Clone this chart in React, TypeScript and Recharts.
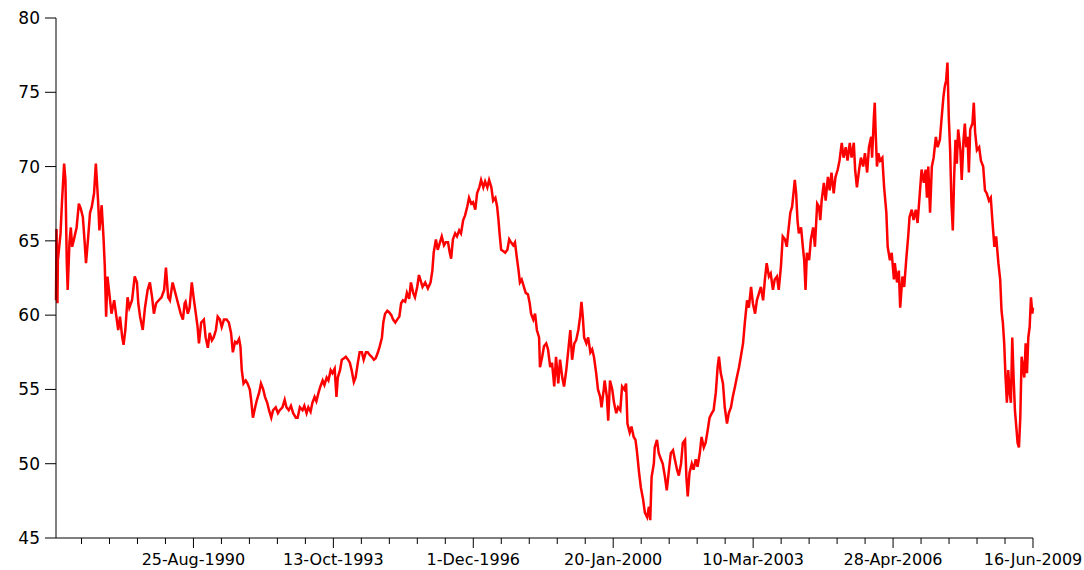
import { LineChart, Line, XAxis, YAxis } from "recharts";

const MONTHS = ["Jan", "Feb", "Mar", "Apr", "May", "Jun", "Jul", "Aug", "Sep", "Oct", "Nov", "Dec"];

// labelled dates on the time axis; four unlabelled ticks sit between each pair
const majorTickLabels = [
  "25-Aug-1990",
  "13-Oct-1993",
  "1-Dec-1996",
  "20-Jan-2000",
  "10-Mar-2003",
  "28-Apr-2006",
  "16-Jun-2009",
];
const minorPerMajor = 4;

const yTicks = [45, 50, 55, 60, 65, 70, 75, 80];

// [decimal year, value]
const readings: [number, number][] = [
  [1987.568, 61.0], [1987.58, 65.8], [1987.6, 60.8], [1987.61, 63.7], [1987.67, 65.5],
  [1987.7, 67.5], [1987.75, 70.2], [1987.78, 69.1], [1987.81, 63.5], [1987.83, 61.7],
  [1987.87, 64.9], [1987.9, 65.9], [1987.93, 64.6], [1987.97, 65.1], [1988.03, 65.9],
  [1988.08, 67.5], [1988.12, 67.2], [1988.17, 66.6], [1988.21, 64.9], [1988.24, 63.5],
  [1988.29, 65.3], [1988.33, 66.9], [1988.37, 67.3], [1988.42, 68.2], [1988.46, 70.2],
  [1988.51, 67.7], [1988.54, 65.7], [1988.59, 67.4], [1988.63, 65.3], [1988.66, 63.3],
  [1988.69, 59.9], [1988.72, 62.6], [1988.76, 61.5], [1988.81, 60.1], [1988.87, 61.0],
  [1988.91, 60.1], [1988.96, 59.0], [1989.0, 59.9], [1989.05, 58.5], [1989.08, 58.0],
  [1989.12, 59.0], [1989.17, 61.2], [1989.21, 60.5], [1989.27, 61.0], [1989.33, 62.6],
  [1989.38, 62.2], [1989.41, 60.8], [1989.45, 59.9], [1989.51, 59.0], [1989.56, 60.5],
  [1989.62, 61.7], [1989.67, 62.2], [1989.72, 61.2], [1989.76, 60.1], [1989.81, 60.8],
  [1989.87, 61.0], [1989.93, 61.2], [1989.99, 61.7], [1990.03, 63.2], [1990.08, 61.2],
  [1990.12, 61.0], [1990.18, 62.2], [1990.24, 61.5], [1990.3, 60.8], [1990.36, 60.1],
  [1990.41, 59.7], [1990.45, 60.8], [1990.47, 60.9], [1990.52, 60.1], [1990.56, 60.5],
  [1990.61, 62.2], [1990.65, 61.2], [1990.7, 60.1], [1990.74, 59.2], [1990.77, 58.1],
  [1990.82, 59.5], [1990.88, 59.7], [1990.92, 58.5], [1990.97, 57.8], [1991.01, 58.8],
  [1991.06, 58.3], [1991.1, 58.5], [1991.15, 59.0], [1991.19, 59.9], [1991.24, 59.7],
  [1991.28, 59.2], [1991.33, 59.7], [1991.39, 59.7], [1991.44, 59.5], [1991.49, 58.8],
  [1991.53, 57.5], [1991.58, 58.2], [1991.62, 58.1], [1991.67, 58.4], [1991.7, 57.9],
  [1991.73, 56.3], [1991.77, 55.4], [1991.82, 55.6], [1991.86, 55.4], [1991.91, 55.0],
  [1991.94, 54.3], [1991.98, 53.1], [1992.03, 53.8], [1992.07, 54.3], [1992.12, 54.8],
  [1992.16, 55.4], [1992.21, 55.0], [1992.25, 54.5], [1992.3, 54.1], [1992.34, 53.6],
  [1992.39, 53.1], [1992.43, 53.6], [1992.49, 53.8], [1992.54, 53.4], [1992.58, 53.6],
  [1992.64, 53.8], [1992.69, 54.3], [1992.73, 53.8], [1992.78, 53.6], [1992.83, 53.9],
  [1992.88, 53.4], [1992.94, 53.1], [1992.98, 53.1], [1993.03, 53.8], [1993.09, 53.6],
  [1993.13, 53.9], [1993.18, 53.4], [1993.22, 53.8], [1993.27, 53.5], [1993.31, 54.1],
  [1993.36, 54.5], [1993.4, 54.2], [1993.45, 54.8], [1993.49, 55.2], [1993.54, 55.6],
  [1993.58, 55.3], [1993.63, 55.8], [1993.67, 55.6], [1993.72, 56.3], [1993.76, 56.1],
  [1993.81, 56.4], [1993.85, 54.5], [1993.88, 55.8], [1993.93, 56.3], [1993.97, 57.0],
  [1994.02, 57.1], [1994.06, 57.2], [1994.11, 57.0], [1994.15, 56.8], [1994.19, 56.3],
  [1994.24, 55.5], [1994.28, 55.8], [1994.33, 56.8], [1994.37, 57.5], [1994.42, 57.5],
  [1994.46, 57.0], [1994.51, 57.5], [1994.55, 57.5], [1994.6, 57.3], [1994.64, 57.2],
  [1994.69, 57.0], [1994.73, 57.1], [1994.78, 57.5], [1994.82, 57.9], [1994.87, 58.5],
  [1994.9, 59.5], [1994.94, 60.1], [1994.99, 60.3], [1995.03, 60.2], [1995.08, 60.0],
  [1995.12, 59.7], [1995.17, 59.5], [1995.21, 59.7], [1995.26, 59.9], [1995.3, 60.8],
  [1995.34, 61.0], [1995.39, 60.9], [1995.43, 61.5], [1995.48, 61.1], [1995.52, 62.2],
  [1995.57, 61.5], [1995.61, 61.2], [1995.66, 61.9], [1995.7, 62.7], [1995.78, 61.9],
  [1995.84, 62.2], [1995.9, 61.8], [1995.96, 62.2], [1996.0, 63.0], [1996.03, 64.2],
  [1996.08, 65.1], [1996.12, 64.4], [1996.17, 64.9], [1996.21, 65.3], [1996.26, 64.7],
  [1996.3, 64.9], [1996.35, 64.9], [1996.39, 64.2], [1996.42, 63.8], [1996.46, 65.1],
  [1996.51, 65.5], [1996.55, 65.3], [1996.6, 65.7], [1996.64, 65.5], [1996.69, 66.4],
  [1996.73, 66.7], [1996.78, 67.3], [1996.82, 67.9], [1996.87, 67.5], [1996.91, 67.6],
  [1996.96, 67.1], [1997.0, 68.2], [1997.05, 68.6], [1997.09, 69.1], [1997.14, 68.6],
  [1997.18, 69.0], [1997.23, 68.6], [1997.27, 69.1], [1997.32, 68.6], [1997.36, 67.7],
  [1997.41, 67.9], [1997.45, 67.3], [1997.48, 66.4], [1997.51, 65.3], [1997.54, 64.4],
  [1997.59, 64.3], [1997.63, 64.2], [1997.68, 64.4], [1997.72, 65.1], [1997.76, 64.9],
  [1997.81, 64.7], [1997.85, 64.9], [1997.89, 63.9], [1997.93, 63.0], [1997.96, 62.2],
  [1998.0, 62.4], [1998.05, 61.9], [1998.09, 61.5], [1998.14, 61.4], [1998.18, 60.8],
  [1998.21, 60.1], [1998.26, 59.7], [1998.3, 60.1], [1998.34, 59.0], [1998.39, 58.5],
  [1998.41, 56.5], [1998.46, 57.2], [1998.5, 57.9], [1998.55, 58.1], [1998.59, 57.7],
  [1998.64, 56.5], [1998.68, 56.8], [1998.73, 55.2], [1998.77, 57.2], [1998.82, 55.4],
  [1998.86, 57.0], [1998.91, 55.8], [1998.95, 55.2], [1999.0, 56.3], [1999.04, 57.5],
  [1999.09, 59.0], [1999.13, 57.0], [1999.18, 58.1], [1999.22, 58.3], [1999.27, 59.0],
  [1999.31, 59.9], [1999.34, 60.9], [1999.37, 59.9], [1999.4, 58.5], [1999.45, 58.1],
  [1999.49, 58.5], [1999.54, 57.5], [1999.58, 57.7], [1999.62, 57.2], [1999.67, 56.1],
  [1999.71, 55.0], [1999.76, 54.5], [1999.79, 53.8], [1999.84, 55.0], [1999.86, 55.6],
  [1999.91, 54.5], [1999.94, 52.9], [1999.98, 55.6], [2000.03, 55.0], [2000.07, 54.1],
  [2000.12, 53.4], [2000.16, 53.8], [2000.21, 53.6], [2000.25, 55.2], [2000.3, 55.0],
  [2000.34, 55.4], [2000.37, 52.7], [2000.42, 52.1], [2000.46, 52.5], [2000.51, 51.8],
  [2000.55, 51.6], [2000.58, 50.9], [2000.63, 49.4], [2000.67, 48.4], [2000.72, 47.6],
  [2000.76, 46.7], [2000.81, 46.4], [2000.85, 47.1], [2000.88, 46.2], [2000.91, 49.1],
  [2000.96, 50.0], [2000.98, 51.1], [2001.03, 51.6], [2001.07, 50.7], [2001.12, 50.3],
  [2001.16, 50.0], [2001.21, 49.1], [2001.25, 48.2], [2001.3, 49.6], [2001.34, 50.7],
  [2001.39, 50.9], [2001.43, 50.3], [2001.48, 49.6], [2001.52, 49.2], [2001.57, 50.0],
  [2001.61, 51.4], [2001.66, 51.6], [2001.69, 49.1], [2001.72, 47.8], [2001.76, 49.4],
  [2001.81, 50.0], [2001.85, 49.6], [2001.9, 50.3], [2001.94, 49.8], [2001.99, 50.7],
  [2002.03, 51.8], [2002.08, 51.1], [2002.12, 51.4], [2002.17, 52.3], [2002.21, 53.1],
  [2002.26, 53.4], [2002.3, 53.6], [2002.35, 54.8], [2002.39, 56.5], [2002.42, 57.2],
  [2002.46, 56.1], [2002.51, 55.4], [2002.55, 53.8], [2002.6, 52.7], [2002.64, 53.4],
  [2002.69, 53.8], [2002.73, 54.5], [2002.78, 55.2], [2002.82, 55.8], [2002.87, 56.5],
  [2002.91, 57.2], [2002.96, 58.1], [2003.0, 59.5], [2003.05, 61.0], [2003.09, 60.5],
  [2003.14, 61.9], [2003.18, 60.8], [2003.23, 60.1], [2003.27, 61.0], [2003.32, 61.5],
  [2003.36, 61.9], [2003.41, 61.0], [2003.45, 62.4], [2003.49, 63.5], [2003.54, 62.6],
  [2003.58, 62.8], [2003.63, 61.7], [2003.67, 62.4], [2003.72, 62.6], [2003.76, 61.7],
  [2003.81, 63.3], [2003.85, 65.3], [2003.9, 65.1], [2003.94, 64.6], [2003.97, 65.5],
  [2004.02, 66.9], [2004.06, 67.3], [2004.09, 68.2], [2004.12, 69.1], [2004.15, 68.2],
  [2004.18, 66.4], [2004.21, 65.5], [2004.26, 65.9], [2004.3, 64.6], [2004.33, 63.7],
  [2004.36, 61.7], [2004.39, 64.2], [2004.44, 63.7], [2004.48, 65.1], [2004.53, 65.9],
  [2004.57, 64.6], [2004.62, 67.5], [2004.66, 67.3], [2004.69, 66.4], [2004.72, 67.7],
  [2004.77, 68.9], [2004.81, 67.7], [2004.86, 69.3], [2004.9, 68.4], [2004.94, 69.6],
  [2004.99, 68.2], [2005.03, 69.3], [2005.08, 69.8], [2005.12, 70.4], [2005.17, 71.6],
  [2005.21, 70.6], [2005.26, 71.3], [2005.3, 70.4], [2005.35, 71.6], [2005.39, 70.6],
  [2005.44, 71.6], [2005.47, 69.8], [2005.51, 68.6], [2005.56, 69.8], [2005.6, 70.6],
  [2005.65, 70.0], [2005.69, 70.9], [2005.74, 69.6], [2005.78, 71.3], [2005.83, 72.0],
  [2005.85, 70.6], [2005.89, 73.3], [2005.91, 74.3], [2005.93, 72.3], [2005.96, 70.0],
  [2005.99, 70.9], [2006.03, 70.4], [2006.08, 70.6], [2006.12, 68.6], [2006.17, 66.9],
  [2006.2, 64.6], [2006.25, 63.7], [2006.29, 64.2], [2006.34, 62.4], [2006.36, 63.5],
  [2006.41, 62.2], [2006.45, 63.0], [2006.48, 60.5], [2006.53, 62.6], [2006.57, 61.9],
  [2006.62, 63.9], [2006.66, 65.3], [2006.69, 66.6], [2006.74, 67.1], [2006.78, 66.4],
  [2006.83, 67.1], [2006.87, 66.2], [2006.92, 68.2], [2006.96, 69.8], [2007.01, 68.9],
  [2007.05, 69.8], [2007.08, 67.9], [2007.11, 70.0], [2007.15, 66.9], [2007.19, 70.0],
  [2007.23, 70.6], [2007.28, 72.0], [2007.32, 71.3], [2007.37, 71.8], [2007.41, 73.3],
  [2007.45, 74.7], [2007.48, 75.4], [2007.51, 75.8], [2007.54, 77.0], [2007.57, 73.3],
  [2007.6, 71.1], [2007.63, 67.5], [2007.66, 65.7], [2007.69, 69.3], [2007.72, 71.8],
  [2007.75, 70.2], [2007.78, 72.5], [2007.83, 71.1], [2007.86, 69.1], [2007.9, 71.8],
  [2007.93, 72.9], [2007.96, 71.3], [2007.99, 72.0], [2008.02, 69.6], [2008.05, 72.5],
  [2008.1, 72.9], [2008.13, 74.3], [2008.16, 72.3], [2008.2, 71.1], [2008.25, 71.3],
  [2008.29, 70.4], [2008.34, 70.0], [2008.38, 68.4], [2008.42, 68.2], [2008.47, 67.7],
  [2008.51, 67.9], [2008.54, 66.6], [2008.59, 64.6], [2008.63, 65.3], [2008.68, 63.5],
  [2008.72, 62.4], [2008.75, 60.3], [2008.78, 59.5], [2008.81, 58.1], [2008.84, 55.8],
  [2008.87, 54.1], [2008.9, 56.3], [2008.93, 54.8], [2008.96, 54.1], [2008.99, 58.5],
  [2009.02, 55.8], [2009.05, 53.6], [2009.08, 52.5], [2009.11, 51.4], [2009.14, 51.1],
  [2009.17, 53.1], [2009.2, 57.2], [2009.23, 56.5], [2009.26, 55.8], [2009.29, 58.1],
  [2009.32, 56.1], [2009.35, 58.5], [2009.38, 59.2], [2009.41, 61.2], [2009.44, 60.1],
  [2009.455, 60.5],
];

const FONT = "'DejaVu Sans', Verdana, sans-serif";

function parseLabel(label: string): number {
  const [d, m, y] = label.split("-");
  return Date.UTC(Number(y), MONTHS.indexOf(m), Number(d));
}

function yearToTime(year: number): number {
  const whole = Math.floor(year);
  const a = Date.UTC(whole, 0, 1);
  const b = Date.UTC(whole + 1, 0, 1);
  return a + (year - whole) * (b - a);
}

const data = readings.map(([year, value]) => ({ t: yearToTime(year), value }));
const tStart = data[0].t;
const tEnd = data[data.length - 1].t;

const majorTimes = majorTickLabels.map(parseLabel);
const labelByTime = new Map(majorTimes.map((t, i) => [t, majorTickLabels[i]]));

// unlabelled ticks continue at the same spacing back to the start of the axis
const xTicks: number[] = [];
const firstStep = (majorTimes[1] - majorTimes[0]) / (minorPerMajor + 1);
for (let t = majorTimes[0] - firstStep; t >= tStart; t -= firstStep) xTicks.unshift(t);
majorTimes.forEach((t, i) => {
  xTicks.push(t);
  if (i < majorTimes.length - 1) {
    const step = (majorTimes[i + 1] - t) / (minorPerMajor + 1);
    for (let k = 1; k <= minorPerMajor; k++) xTicks.push(t + k * step);
  }
});

function DateTick({ x, y, payload }: any) {
  const label = labelByTime.get(payload.value);
  return (
    <g>
      <line x1={x} y1={y} x2={x} y2={y + (label ? 10 : 6)} stroke="#000" />
      {label && (
        <text x={x} y={y + 27} textAnchor="middle" fontSize={16} fontFamily={FONT} fill="#000">
          {label}
        </text>
      )}
    </g>
  );
}

export default function App() {
  return (
    <div style={{ position: "absolute", left: 0, top: 0, width: 1084, height: 570, background: "#fff" }}>
      <LineChart width={1084} height={570} data={data} margin={{ top: 18, right: 51, bottom: 0, left: 0 }}>
        <XAxis
          dataKey="t"
          type="number"
          scale="linear"
          domain={[tStart, tEnd]}
          ticks={xTicks}
          interval={0}
          height={32}
          tickSize={0}
          tickMargin={0}
          tickLine={false}
          axisLine={{ stroke: "#000" }}
          tick={<DateTick />}
        />
        <YAxis
          domain={[45, 80]}
          ticks={yTicks}
          interval={0}
          width={56}
          tickSize={11}
          tickMargin={5}
          tickLine={{ stroke: "#000" }}
          axisLine={{ stroke: "#000" }}
          tick={{ fill: "#000", fontSize: 17, fontFamily: FONT }}
        />
        <Line
          type="linear"
          dataKey="value"
          stroke="#ff0000"
          strokeWidth={2.5}
          strokeLinejoin="miter"
          dot={false}
          isAnimationActive={false}
        />
      </LineChart>
    </div>
  );
}
